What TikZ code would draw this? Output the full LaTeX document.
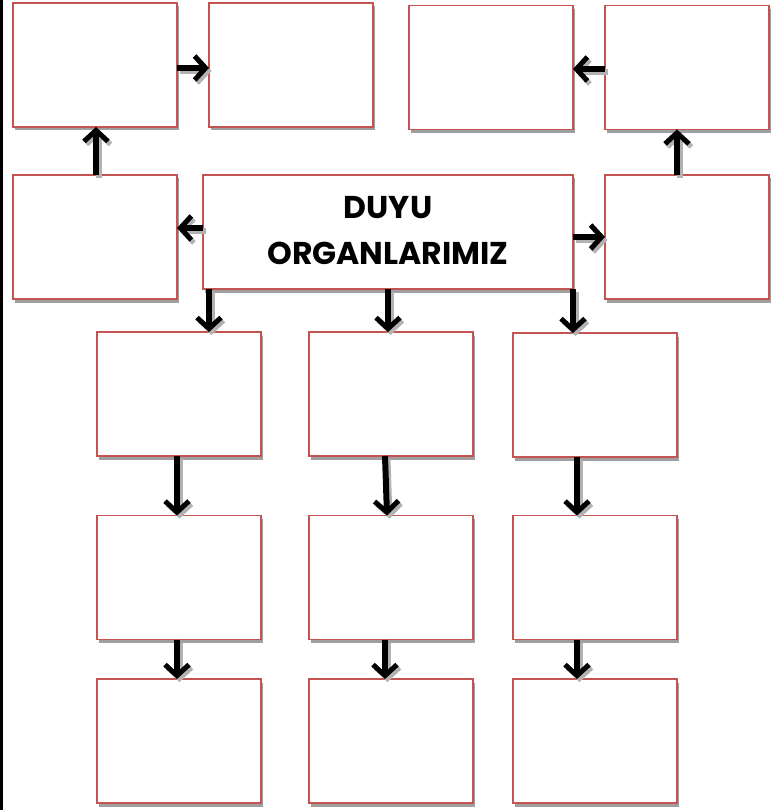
\documentclass[tikz,border=0pt]{standalone}
\usepackage{fontspec}
\setmainfont{Poppins}[BoldFont={Poppins Bold}]
\usetikzlibrary{arrows.meta}
\definecolor{boxred}{RGB}{196,84,82}
\tikzset{
  box/.style={draw=boxred, line width=1.6pt, fill=white, minimum width=164pt, minimum height=124pt, inner sep=0pt, outer sep=0pt,
    preaction={fill=gray!75, transform canvas={shift={(1.5pt,-3.5pt)}}}},
  arr/.style={line width=6pt, -{Straight Barb[length=11pt,width=24pt,line width=5pt]}},
  arrsh/.style={arr, draw=gray!60, transform canvas={shift={(2.5pt,-3pt)}}},
}
\newcommand{\myarrow}[2]{\draw[arrsh] #1 -- #2; \draw[arr] #1 -- #2;}
\begin{document}
\begin{tikzpicture}[x=1pt,y=-1pt]
\useasboundingbox (0,0) rectangle (773,810);
\draw[line width=2.5pt] (1.25,0) -- (1.25,810);
% row 1
\node[box] (A) at (95,65) {};
\node[box] (B) at (291,65) {};
\node[box] (C) at (491,67.5) {};
\node[box] (D) at (687,67.5) {};
% row 2
\node[box] (E) at (95,237) {};
\node[box, minimum width=370pt, minimum height=114pt] (F) at (388,232) {};
\node[box] (G) at (687,237) {};
\node[font=\bfseries\fontsize{31.5}{46}\selectfont, align=center] (T) at (388,231) {DUYU\\ORGANLARIMIZ};
% rows 3-5
\node[box] (R3a) at (179,394) {};
\node[box] (R3b) at (391,394) {};
\node[box] (R3c) at (595,395) {};
\node[box] (R4a) at (179,577.5) {};
\node[box] (R4b) at (391,577.5) {};
\node[box] (R4c) at (595,577.5) {};
\node[box] (R5a) at (179,741) {};
\node[box] (R5b) at (391,741) {};
\node[box] (R5c) at (595,741) {};
% arrows
\myarrow{([yshift=-3pt]A.east)}{([yshift=-3pt]B.west)}
\myarrow{([xshift=1pt]E.north)}{([xshift=1pt]A.south)}
\myarrow{([yshift=-1.5pt]D.west)}{([yshift=-1.5pt]C.east)}
\myarrow{([xshift=-10pt]G.north)}{([xshift=-10pt]D.south)}
\myarrow{([yshift=4pt]F.west)}{([yshift=4pt]F.west -| E.east)}
\myarrow{(F.east |- G.west)}{(G.west)}
\myarrow{([xshift=6pt]F.south west)}{([xshift=6pt]F.south west |- R3a.north)}
\myarrow{(F.south)}{(F.south |- R3b.north)}
\myarrow{(F.south east)}{(F.south east |- R3c.north)}
\myarrow{([xshift=-2pt]R3a.south)}{([xshift=-2pt]R4a.north)}
\myarrow{([xshift=-6pt]R3b.south)}{([xshift=-4pt]R4b.north)}
\myarrow{([xshift=-18pt]R3c.south)}{([xshift=-18pt]R4c.north)}
\myarrow{([xshift=-2pt]R4a.south)}{([xshift=-2pt]R5a.north)}
\myarrow{([xshift=-6pt]R4b.south)}{([xshift=-6pt]R5b.north)}
\myarrow{([xshift=-18pt]R4c.south)}{([xshift=-18pt]R5c.north)}
\end{tikzpicture}
\end{document}
